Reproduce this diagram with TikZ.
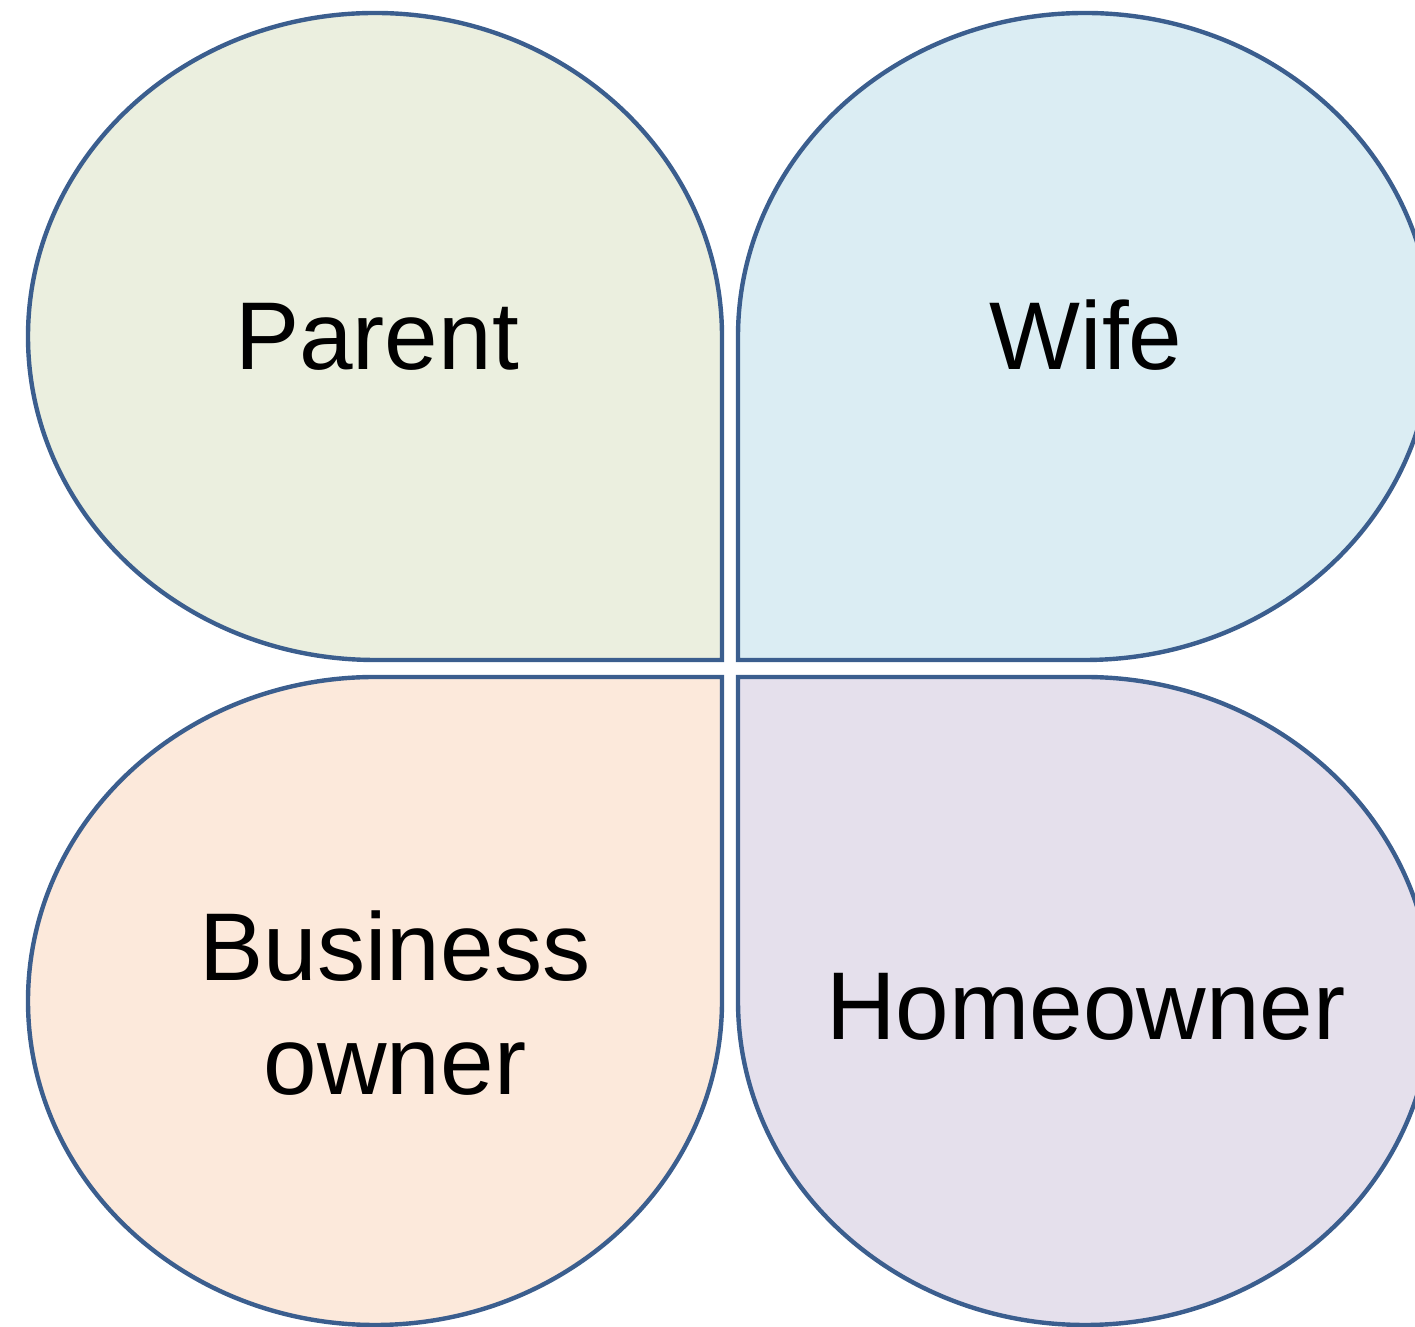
\documentclass[tikz,border=0pt]{standalone}
\usepackage{fontspec}
\setmainfont{Liberation Sans}
\definecolor{petalline}{HTML}{3B5E8E}
\definecolor{parentfill}{HTML}{EBEFDF}
\definecolor{wifefill}{HTML}{DBEDF3}
\definecolor{businessfill}{HTML}{FCE9DB}
\definecolor{homefill}{HTML}{E5E0EC}
\tikzset{
  petal/.style={draw=petalline, line width=0.088cm},
  label/.style={font=\fontsize{54.8}{65.4}\selectfont, anchor=base, align=center}
}
\begin{document}
\begin{tikzpicture}[x=0.02cm, y=0.02cm]
    \useasboundingbox (0,0) rectangle (1415,1327);
    \clip (0,0) rectangle (1415,1327);
    % four petals, square corner toward the middle
    \draw[petal, fill=parentfill] (722,667) -- (722,990.5)
        arc[start angle=0, end angle=270, x radius=347, y radius=323.5] -- cycle;
    \draw[petal, fill=wifefill] (738,667) -- (1085,667)
        arc[start angle=-90, end angle=180, x radius=347, y radius=323.5] -- cycle;
    \draw[petal, fill=businessfill] (722,650) -- (375,650)
        arc[start angle=90, end angle=360, x radius=347, y radius=324] -- cycle;
    \draw[petal, fill=homefill] (738,650) -- (738,326)
        arc[start angle=180, end angle=450, x radius=347, y radius=324] -- cycle;
    % labels
    \node[label] (parent) at (377,957) {Parent};
    \node[label] (wife) at (1086,957) {Wife};
    \node[label] (business) at (395,232) {Business\\owner};
    \node[label] (home) at (1086,287) {Homeowner};
\end{tikzpicture}
\end{document}
